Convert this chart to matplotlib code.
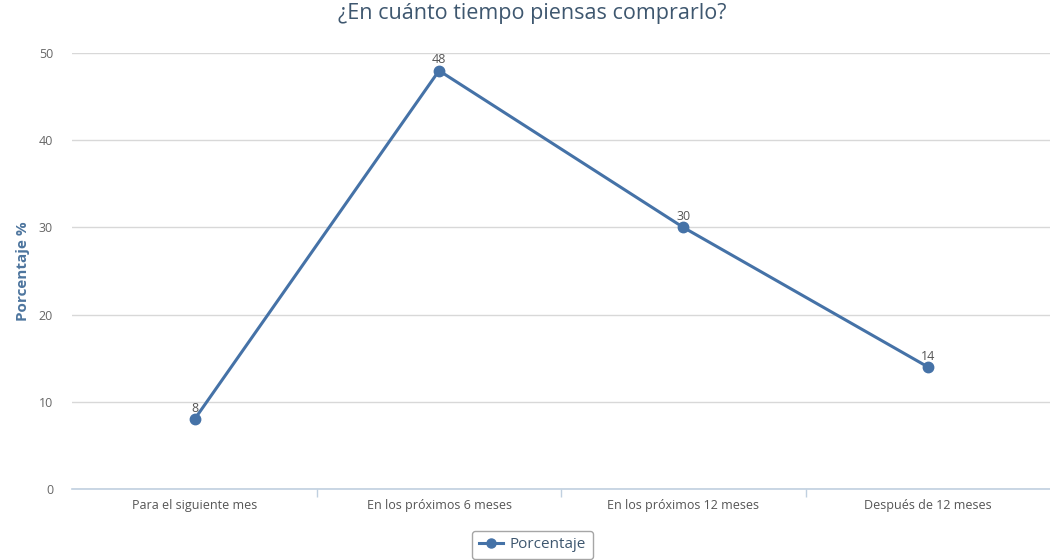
import matplotlib
matplotlib.use("Agg")
import matplotlib.pyplot as plt
from matplotlib.lines import Line2D

# data
categories = ["Para el siguiente mes", "En los próximos 6 meses",
              "En los próximos 12 meses", "Después de 12 meses"]
porcentaje = [8, 48, 30, 14]
y_ticks = [0, 10, 20, 30, 40, 50]

plt.rcParams['font.family'] = ['Open Sans', 'DejaVu Sans']

fig = plt.figure(figsize=(10.5, 5.6), dpi=100)
ax = fig.add_axes([0.069, 0.127, 0.931, 0.778])

line_color = "#4572A7"
x = list(range(len(categories)))
ax.plot(x, porcentaje, color=line_color, lw=2.2, marker="o", ms=7.5, zorder=3)

for xi, v in zip(x, porcentaje):
    ax.annotate(str(v), (xi, v), xytext=(0, 3), textcoords="offset points",
                ha="center", va="bottom", fontsize=9, color="#555555")

ax.set_xlim(-0.5, len(categories) - 0.5)
ax.set_ylim(0, 50)
ax.set_yticks(y_ticks)
ax.yaxis.grid(True, color="#D8D8D8", lw=1)
ax.set_axisbelow(True)

ax.set_xticks(x)
ax.set_xticklabels(categories, fontsize=9, color="#555555")
ax.tick_params(axis="x", which="major", length=0, pad=7)
ax.set_xticks([0.5, 1.5, 2.5], minor=True)
ax.tick_params(axis="x", which="minor", length=6, color="#C0D0E0", width=1)
ax.tick_params(axis="y", length=0, labelsize=9, labelcolor="#666666", pad=14)

for s in ["top", "right", "left"]:
    ax.spines[s].set_visible(False)
ax.spines["bottom"].set_color("#C0D0E0")
ax.spines["bottom"].set_linewidth(1.2)

ax.set_ylabel("Porcentaje %", fontsize=11, fontweight="bold", color="#4D759E", labelpad=6)
fig.suptitle("¿En cuánto tiempo piensas comprarlo?", x=0.507, y=0.995, fontsize=15.5, color="#3E576F")

handle = Line2D([0], [0], color=line_color, lw=2.2, marker="o", ms=6.5)
leg = fig.legend([handle], ["Porcentaje"], loc="center", bbox_to_anchor=(0.507, 0.027),
                 fontsize=11, frameon=True, fancybox=True, handlelength=1.6,
                 borderpad=0.45, handletextpad=0.4)
leg.get_frame().set_edgecolor("#909090")
leg.get_frame().set_linewidth(1)
for t in leg.get_texts():
    t.set_color("#3E576F")

fig.savefig("out.png", dpi=100)
